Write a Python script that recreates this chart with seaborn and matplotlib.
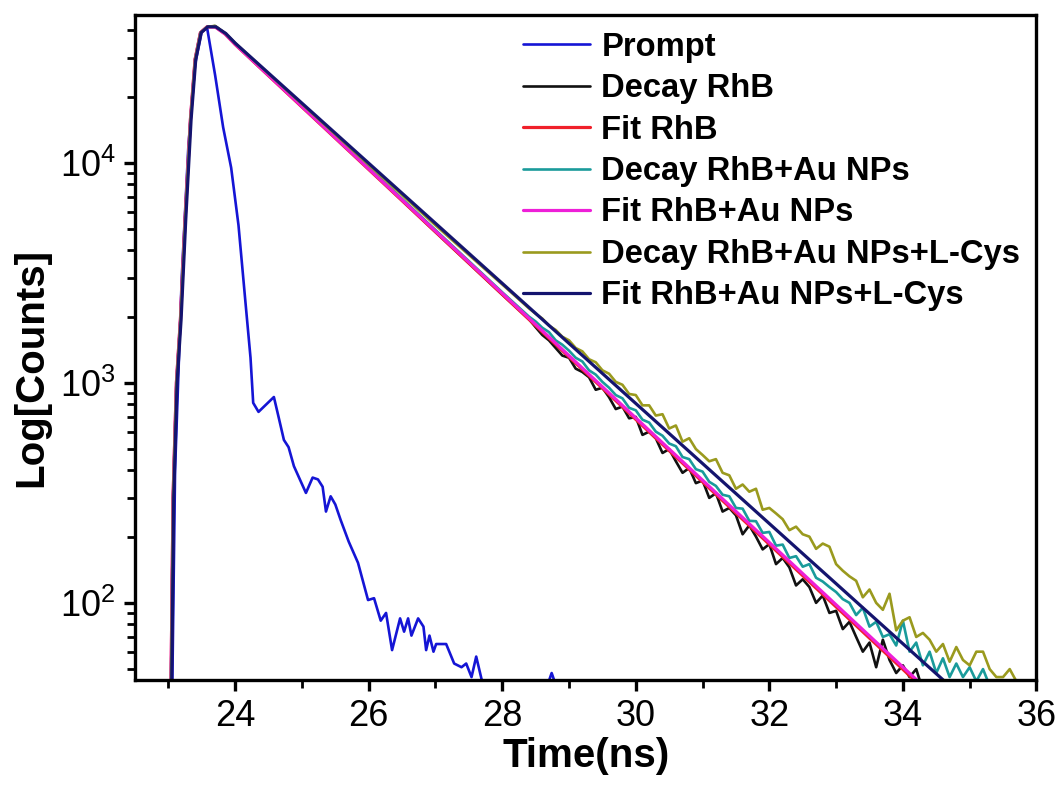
import numpy as np
import pandas as pd
import seaborn as sns
import matplotlib.pyplot as plt
from matplotlib.ticker import MultipleLocator, LogLocator

# --- data (time in ns, counts) ---
prompt_t = [23.0, 23.06, 23.1, 23.2, 23.3, 23.4, 23.5, 23.58, 23.7, 23.82,
            23.94, 24.05, 24.15, 24.23, 24.27, 24.35, 24.58, 24.65, 24.73, 24.8,
            24.88, 25.06, 25.16, 25.24, 25.31, 25.36, 25.43, 25.5, 25.58, 25.7,
            25.84, 25.99, 26.08, 26.18, 26.26, 26.35, 26.47, 26.53, 26.59, 26.64,
            26.74, 26.82, 26.86, 26.91, 26.97, 27.01, 27.16, 27.28, 27.39, 27.46,
            27.54, 27.61, 27.69, 27.8, 28.65, 28.74, 28.83]
prompt_c = [30, 45, 400, 3000, 12000, 28000, 39500, 41000, 25000, 14500,
            9500, 5200, 2400, 1300, 811, 738, 862, 700, 550, 510,
            418, 316, 371, 364, 337, 260, 305, 280, 238, 190,
            152, 103, 105, 83, 90, 61, 85, 74, 85, 71,
            85, 78, 61, 71, 60, 65, 65, 53, 51, 53,
            46, 57, 45, 40, 40, 48, 40]

# rising edge + smooth part of the decays
head_t = [23.0, 23.04, 23.07, 23.12, 23.18, 23.25, 23.33, 23.4, 23.48, 23.58,
          23.7, 23.85, 24.0, 25.0, 26.0, 27.0, 28.0, 28.4]
rhb_head = [30, 45, 300, 1000, 1930, 5500, 15700, 29500, 39000, 41500,
            41800, 38600, 34800, 18000, 9400, 4850, 2520, 1950]
au_head = [30, 45, 300, 1000, 1930, 5500, 15700, 29500, 39000, 41500,
           41800, 38700, 34900, 18200, 9500, 4950, 2580, 2000]
cys_head = [30, 45, 300, 1000, 1930, 5500, 15700, 29500, 39000, 41500,
            41900, 38800, 35000, 18500, 9800, 5200, 2800, 2180]

# noisy tails, one channel every 0.1 ns starting at 28.5 ns
rhb_tail = [1790, 1650, 1560, 1440, 1330, 1300, 1160, 1120, 1060, 930,
            950, 860, 760, 780, 690, 700, 580, 600, 560, 480,
            500, 440, 390, 410, 350, 360, 300, 315, 260, 270,
            250, 205, 225, 200, 175, 185, 150, 160, 145, 120,
            128, 118, 100, 108, 90, 92, 76, 82, 70, 60,
            66, 51, 68, 55, 48, 52, 46, 50, 40]
au_tail = [1900, 1780, 1700, 1560, 1490, 1400, 1300, 1250, 1140, 1090,
           1010, 950, 880, 850, 770, 750, 680, 660, 600, 575,
           530, 515, 460, 450, 405, 395, 355, 340, 310, 305,
           270, 268, 236, 235, 208, 210, 182, 184, 160, 163,
           146, 150, 130, 125, 118, 112, 104, 100, 88, 95,
           78, 82, 70, 72, 64, 83, 60, 66, 52, 60,
           48, 56, 46, 53, 46, 51, 44, 50, 42]
cys_tail = [2060, 1960, 1820, 1740, 1620, 1560, 1440, 1390, 1280, 1240,
            1140, 1100, 1010, 980, 890, 880, 790, 790, 710, 720,
            620, 640, 540, 560, 500, 470, 440, 450, 390, 380,
            330, 345, 320, 330, 265, 270, 255, 240, 214, 222,
            205, 200, 176, 186, 180, 150, 140, 132, 126, 106,
            115, 100, 93, 110, 75, 83, 86, 70, 73, 68,
            60, 65, 54, 63, 55, 52, 60, 60, 50, 46,
            46, 50, 44, 40]

# fitted curves (straight on the log axis after the peak)
fit_t = [23.0, 23.04, 23.07, 23.12, 23.18, 23.25, 23.33, 23.4, 23.48, 23.58,
         23.7, 23.85, 24.0, 34.3]
fit_rhb = [30, 45, 300, 1000, 1930, 5500, 15700, 29500, 39000, 41500,
           41500, 38500, 34500, 41]
fit_au = [30, 45, 300, 1000, 1930, 5500, 15700, 29500, 39000, 41500,
          41500, 38500, 34600, 42]
fit_cys_t = [23.01, 23.05, 23.08, 23.13, 23.19, 23.26, 23.34, 23.41, 23.49, 23.59,
             23.71, 23.86, 24.0, 34.7]
fit_cys = [30, 45, 300, 1000, 1930, 5500, 15700, 29500, 39000, 41500,
           41500, 38700, 35000, 42]

labels = ["Prompt", "Decay RhB", "Fit RhB", "Decay RhB+Au NPs",
          "Fit RhB+Au NPs", "Decay RhB+Au NPs+L-Cys", "Fit RhB+Au NPs+L-Cys"]
colors = ["#1515d5", "#111111", "#f0202a", "#1a9b9b",
          "#ee1fd8", "#9a9a1e", "#14146e"]
widths = [1.9, 1.9, 2.3, 1.9, 2.3, 1.9, 2.3]


def tail_times(n):
    return list(np.round(28.5 + 0.1 * np.arange(n), 1))


series = [
    (prompt_t, prompt_c),
    (head_t + tail_times(len(rhb_tail)), rhb_head + rhb_tail),
    (fit_t, fit_rhb),
    (head_t + tail_times(len(au_tail)), au_head + au_tail),
    (fit_t, fit_au),
    (head_t + tail_times(len(cys_tail)), cys_head + cys_tail),
    (fit_cys_t, fit_cys),
]

frames = []
for lab, (t, c) in zip(labels, series):
    frames.append(pd.DataFrame({"t": t, "counts": c, "series": lab}))
df = pd.concat(frames, ignore_index=True)

sns.set_style("ticks")
plt.rcParams["font.family"] = ["Liberation Sans", "DejaVu Sans"]
plt.rcParams["mathtext.fontset"] = "custom"
plt.rcParams["mathtext.rm"] = "Liberation Sans"
plt.rcParams["mathtext.default"] = "regular"
for k in ["text.color", "axes.labelcolor", "xtick.color", "ytick.color",
          "axes.edgecolor"]:
    plt.rcParams[k] = "black"

fig = plt.figure(figsize=(10.63, 7.85), dpi=100)
ax = fig.add_axes([0.127, 0.134, 0.848, 0.847])

for lab, col, lw in zip(labels, colors, widths):
    sub = df[df["series"] == lab]
    sns.lineplot(data=sub, x="t", y="counts", color=col, lw=lw, sort=False,
                 estimator=None, label=lab, ax=ax)

ax.set_yscale("log")
ax.set_xlim(22.5, 36)
ax.set_ylim(44.7, 47000)
ax.xaxis.set_major_locator(MultipleLocator(2))
ax.xaxis.set_minor_locator(MultipleLocator(1))
ax.yaxis.set_major_locator(LogLocator(base=10, numticks=10))
ax.yaxis.set_minor_locator(LogLocator(base=10, subs=np.arange(2, 10), numticks=20))

for s in ax.spines.values():
    s.set_linewidth(2.4)
    s.set_color("black")
ax.tick_params(which="major", direction="out", length=8, width=2.4,
               labelsize=26, pad=6, colors="black")
ax.tick_params(which="minor", direction="out", length=6, width=2.0,
               colors="black")
ax.tick_params(top=False, right=False, which="both")

ax.set_xlabel("Time(ns)", fontsize=29, fontweight="bold", labelpad=2)
ax.set_ylabel("Log[Counts]", fontsize=29, fontweight="bold", labelpad=8)
ax.yaxis.set_label_coords(-0.094, 0.47)

handles, labs = ax.get_legend_handles_labels()
ax.legend(handles, labs, loc="upper left", bbox_to_anchor=(0.43, 0.975),
          frameon=False, prop={"size": 23.6, "weight": "bold"},
          handlelength=2.05, handletextpad=0.35, labelspacing=0.32,
          borderpad=0, borderaxespad=0)

fig.savefig("out.png", dpi=100)
